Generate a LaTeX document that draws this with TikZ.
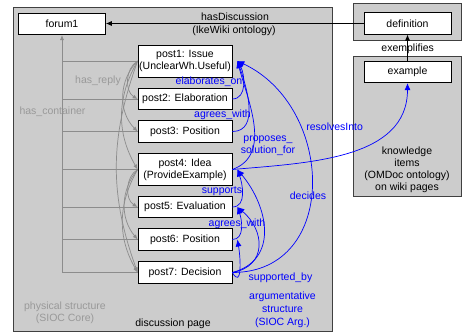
\documentclass[tikz,border=0pt]{standalone}
\usepackage{fontspec}
\setmainfont{Liberation Sans}
\usetikzlibrary{arrows.meta}

\begin{document}
\begin{tikzpicture}[x=1pt, y=1pt, line width=.7pt,
	every node/.style={font=\fontsize{10.5}{12}\selectfont},
	pagebox/.style={draw=black!75, fill=black!20},
	postbox/.style={draw, fill=white, minimum width=94pt, minimum height=21.5pt, inner sep=.5pt, align=center},
	itembox/.style={draw, fill=white, minimum width=87pt, minimum height=21.5pt},
	linkarrow/.style={-{Latex[length=6pt,width=5pt]}},
	container/.style={draw=black!45},
	replyarrow/.style={black!45, -{Latex[length=5pt,width=4pt]}},
	argarrow/.style={blue, -{Latex[length=7pt,width=6pt]}},
	argtext/.style={text=blue, align=center},
	phystext/.style={text=black!40, align=center}]
	\useasboundingbox (0,0) rectangle (462,333);
	
	% pages
	\draw[pagebox] (13,2) rectangle (332,326);
	\draw[pagebox] (353,293) rectangle (461,330);
	\draw[pagebox] (353,137) rectangle (461,277);
	
	% wiki pages
	\node[itembox] (forum1) at (62,309) {forum1};
	\node[itembox] (definition) at (407.5,309.5) {definition};
	\node[itembox] (example) at (407.5,261) {example};
	
	% posts
	\node[postbox, minimum height=32pt] (post1) at (185,272) {post1: Issue\\(UnclearWh.Useful)};
	\node[postbox] (post2) at (185,234) {post2: Elaboration};
	\node[postbox] (post3) at (185,201.5) {post3: Position};
	\node[postbox, minimum height=32pt] (post4) at (185,163.5) {post4: Idea\\(ProvideExample)};
	\node[postbox] (post5) at (185,126) {post5: Evaluation};
	\node[postbox] (post6) at (185,93.5) {post6: Position};
	\node[postbox] (post7) at (185,60.5) {post7: Decision};
	
	% ontology links
	\draw[linkarrow] (definition.west) -- (definition.west -| forum1.east);
	\node (hasdisc) at (235,316.3) {hasDiscussion};
	\node (ikewiki) at (234,302.3) {(IkeWiki ontology)};
	\draw[linkarrow] (example.north) -- (definition.south);
	\node (exemplifies) at (407.7,284.7) {exemplifies};
	\node[align=center] (knowledge) at (407,162.8) {knowledge\\items\\(OMDoc ontology)\\on wiki pages};
	
	% physical structure
	\foreach \i in {1,...,7}
		\draw[container] (post\i.west) -- (post\i.west -| forum1.south);
	\draw[replyarrow] (post7.west -| forum1.south) -- (forum1.south);
	\draw[replyarrow] (post1.west) to[out=210, in=150] (post2.west);
	\draw[replyarrow] (post1.west) to[out=225, in=135] (post3.west);
	\draw[replyarrow] (post1.west) to[out=240, in=120] (post4.west);
	\draw[replyarrow] (post1.west) to[out=250, in=110] (post7.west);
	\draw[replyarrow] (post4.west) to[out=210, in=150] (post5.west);
	\draw[replyarrow] (post4.west) to[out=230, in=130] (post6.west);
	\draw[replyarrow] (post4.west) to[out=240, in=120] (post7.west);
	\node[phystext] (hasreply) at (98,252) {has\_reply};
	\node[phystext] (hascontainer) at (52.5,221) {has\_container};
	\node[phystext] (physical) at (65,20) {physical structure\\(SIOC Core)};
	\node (discpage) at (173,9.7) {discussion page};
	
	% argumentative structure
	\draw[argarrow] (post2.east) to[out=0, in=-60] ([xshift=5pt]post1.east);
	\draw[argarrow] (post3.east) to[out=0, in=-70] ([xshift=5pt]post1.east);
	\draw[argarrow] (post4.east) to[out=20, in=-75] ([xshift=5pt]post1.east);
	\draw[argarrow] (post4.east) to[out=5, in=-90] (example.south);
	\draw[argarrow] (post5.east) to[out=0, in=-70] ([xshift=5pt]post4.east);
	\draw[argarrow] (post6.east) to[out=0, in=-70] ([xshift=5pt]post5.east);
	\draw[argarrow] (post7.east) to[out=0, in=-25, looseness=1.3] ([xshift=5pt]post1.east);
	\draw[argarrow] (post7.east) to[out=15, in=-50, looseness=1.2] ([xshift=5pt]post4.east);
	\draw[argarrow] (post7.east) to[out=10, in=-40, looseness=1.4] ([xshift=5pt]post5.east);
	\draw[argarrow] (post7.east) to[out=-60, in=-80, looseness=1.5] ([xshift=5pt]post6.east);
	\node[argtext] (elaborates) at (209,251) {elaborates\_on};
	\node[argtext] (agrees1) at (222.5,218.3) {agrees\_with};
	\node[argtext] (proposes) at (268,187) {proposes\_\\solution\_for};
	\node[argtext] (resolves) at (334.7,206.3) {resolvesInto};
	\node[argtext] (supports) at (222,142.3) {supports};
	\node[argtext] (agrees2) at (237,109.7) {agrees\_with};
	\node[argtext] (decides) at (308,137) {decides};
	\node[argtext] (supported) at (280.5,55.7) {supported\_by};
	\node[argtext, font=\fontsize{10.5}{12.8}\selectfont] (argstruct) at (282.5,23.5) {argumentative\\structure\\(SIOC Arg.)};
\end{tikzpicture}
\end{document}
